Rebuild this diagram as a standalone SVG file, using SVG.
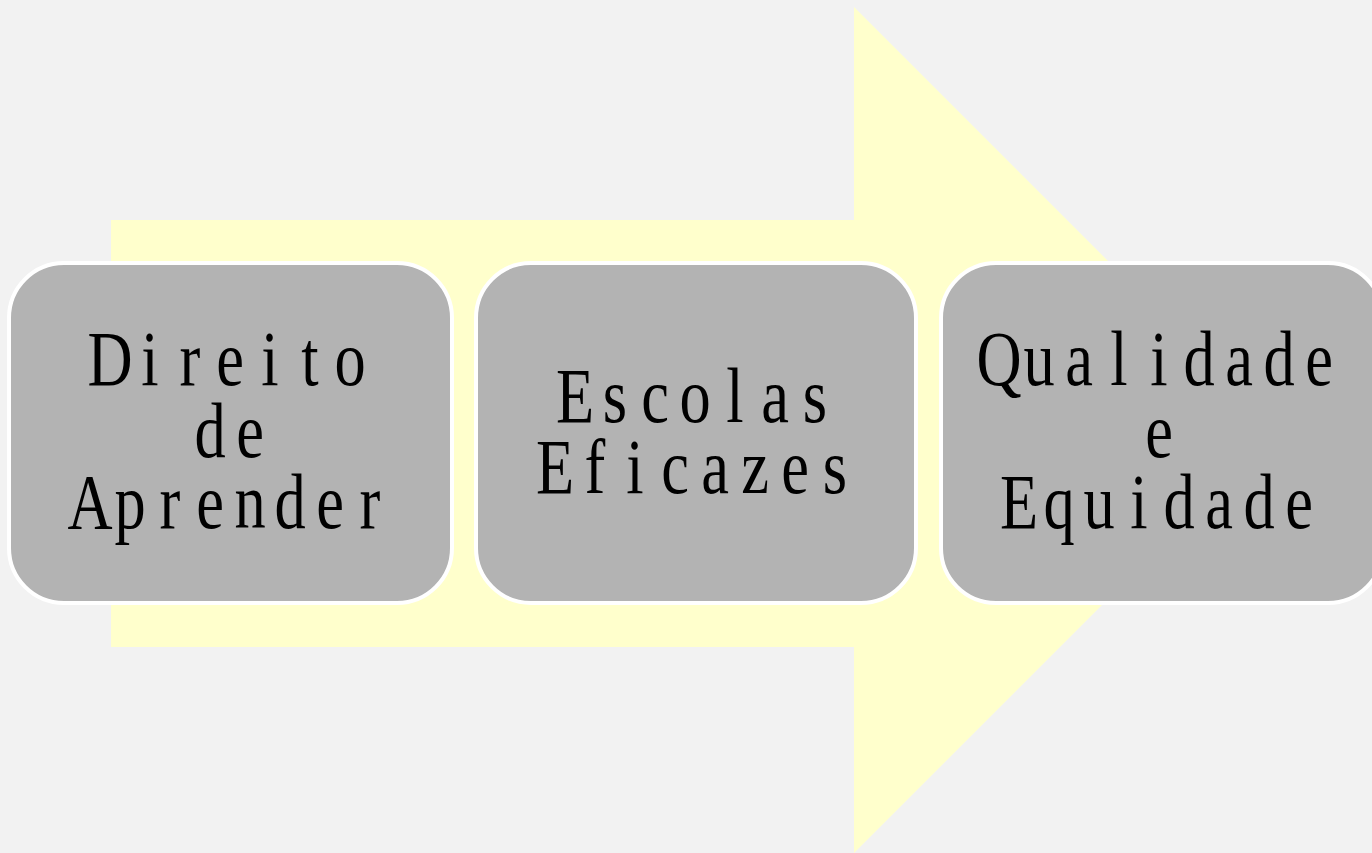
<svg xmlns="http://www.w3.org/2000/svg" width="1372" height="853" viewBox="0 0 1372 853">
<style>
.box{fill:#B3B3B3;stroke:#FFFFFF;stroke-width:4}
.lbl{font-family:"Liberation Serif","Times New Roman",serif;font-size:78px;fill:#000;text-anchor:middle}
</style>
<rect x="0" y="0" width="1372" height="853" fill="#F2F2F2"/>
<polygon id="arrow" points="111,220 854,220 854,7 1277,430 854,853 854,647 111,647" fill="#FFFFCC"/>
<g id="connectors"></g>
<g id="node1">
<rect class="box" x="9" y="263" width="443" height="340" rx="55" ry="55"/>
<text class="lbl" transform="translate(230,0) scale(0.8,1)"><tspan x="-150 -100 -50 0 50 100 150" y="385">Direito</tspan><tspan x="-25 25" y="457">de</tspan><tspan x="-175 -125 -75 -25 25 75 125 175" y="528">Aprender</tspan></text>
</g>
<g id="node2">
<rect class="box" x="476" y="263" width="440" height="340" rx="55" ry="55"/>
<text class="lbl" transform="translate(695,0) scale(0.8,1)"><tspan x="-150 -100 -50 0 50 100 150" y="422">Escolas</tspan><tspan x="-175 -125 -75 -25 25 75 125 175" y="493">Eficazes</tspan></text>
</g>
<g id="node3">
<rect class="box" x="941" y="263" width="442" height="340" rx="55" ry="55"/>
<text class="lbl" transform="translate(1159,0) scale(0.8,1)"><tspan x="-200 -150 -100 -50 0 50 100 150 200" y="385">Qualidade</tspan><tspan x="0" y="457">e</tspan><tspan x="-175 -125 -75 -25 25 75 125 175" y="528">Equidade</tspan></text>
</g>
</svg>
